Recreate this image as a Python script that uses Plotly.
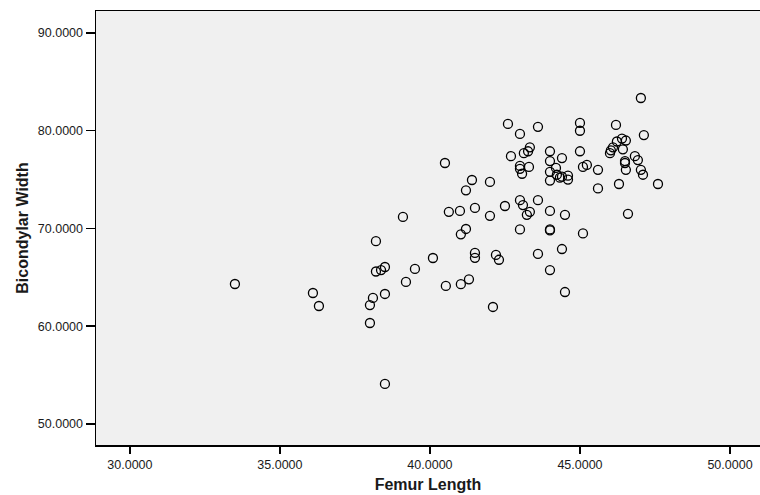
import plotly.graph_objects as go

femur_length = [
    33.5, 36.1, 36.3, 38.0, 38.1, 38.2, 38.2, 38.37, 38.5, 38.5,
    38.0, 38.5, 39.1, 39.2, 39.5, 40.1, 40.5, 40.53, 40.63, 41.0,
    41.03, 41.03, 41.2, 41.2, 41.3, 41.4, 41.5, 41.5, 41.5, 42.0,
    42.0, 42.1, 42.2, 42.3, 42.5, 42.6, 42.7, 43.0, 43.0, 43.0,
    43.0, 43.0, 43.07, 43.1, 43.13, 43.27, 43.23, 43.33, 43.33, 43.3,
    43.6, 43.6, 43.6, 44.0, 44.0, 44.0, 44.0, 44.0, 44.0, 44.0,
    44.0, 44.2, 44.23, 44.33, 44.4, 44.4, 44.4, 44.5, 44.5, 44.6,
    44.6, 45.0, 45.0, 45.0, 45.1, 45.1, 45.23, 45.6, 45.6, 46.0,
    46.03, 46.1, 46.2, 46.23, 46.3, 46.4, 46.43, 46.5, 46.5, 46.53,
    46.53, 46.6, 46.83, 46.93, 47.03, 47.1, 47.03, 47.13, 47.6,
]
bicondylar_width = [
    64.32, 63.4, 62.07, 62.17, 62.9, 65.6, 68.7, 65.75, 66.06, 63.3,
    60.33, 54.1, 71.18, 64.53, 65.86, 66.98, 76.7, 64.12, 71.7, 71.8,
    69.4, 64.3, 69.95, 73.9, 64.8, 74.96, 72.1, 67.5, 67.0, 74.76,
    71.3, 61.97, 67.3, 66.8, 72.3, 80.7, 77.4, 79.67, 76.4, 76.1,
    72.9, 69.9, 75.6, 72.4, 77.7, 77.9, 71.4, 71.7, 78.3, 76.3,
    80.4, 72.9, 67.4, 77.9, 76.9, 75.8, 74.9, 71.8, 69.9, 69.8,
    65.75, 76.2, 75.5, 75.2, 77.2, 75.3, 67.9, 63.5, 71.4, 75.4,
    75.0, 80.8, 80.0, 77.9, 76.3, 69.5, 76.5, 76.0, 74.1, 77.7,
    78.0, 78.3, 80.6, 78.9, 74.55, 79.2, 78.1, 76.9, 76.7, 79.0,
    76.0, 71.5, 77.4, 77.0, 76.0, 75.5, 83.35, 79.56, 74.55,
]

x_ticks = [30, 35, 40, 45, 50]
y_ticks = [50, 60, 70, 80, 90]

fig = go.Figure()
fig.add_trace(go.Scatter(
    x=femur_length, y=bicondylar_width, mode="markers",
    marker=dict(symbol="circle-open", size=9, color="black", line=dict(width=1.3, color="black")),
    showlegend=False, hoverinfo="skip",
))

font_family = "Liberation Sans, Arial, sans-serif"
# the plot area runs on past the right edge of the 760px window, as in the reference
fig.update_layout(
    width=780, height=495,
    margin=dict(l=96, r=20, t=11, b=50),
    paper_bgcolor="white", plot_bgcolor="#f0f0f0",
    font=dict(family=font_family, size=12, color="#1a1a1a"),
    xaxis=dict(
        range=[28.87, 51.0], tickvals=x_ticks,
        ticktext=[f"{v:.4f}" for v in x_ticks],
        ticks="outside", ticklen=7, tickwidth=1.5, tickcolor="black",
        showline=True, linecolor="black", linewidth=1.5, mirror=True,
        showgrid=False, zeroline=False, automargin=False,
        tickfont=dict(size=12.5, color="#1a1a1a"),
        title=dict(text="<b>Femur Length</b>", font=dict(size=16, color="#1a1a1a"), standoff=8),
    ),
    yaxis=dict(
        range=[47.85, 92.25], tickvals=y_ticks,
        ticktext=[f"{v:.4f}" for v in y_ticks],
        ticks="outside", ticklen=9, tickwidth=1.5, tickcolor="black",
        showline=True, linecolor="black", linewidth=1.5, mirror=False,
        showgrid=False, zeroline=False, automargin=False,
        tickfont=dict(size=12.5, color="#1a1a1a"),
        title=dict(text="<b>Bicondylar Width</b>", font=dict(size=16, color="#1a1a1a"), standoff=5),
    ),
)

fig.write_html(
    "out.html",
    config={"displayModeBar": False, "staticPlot": True},
    post_script=(
        "document.body.style.margin='0';"
        "document.body.style.overflow='hidden';"
        "document.documentElement.style.overflow='hidden';"
    ),
)
